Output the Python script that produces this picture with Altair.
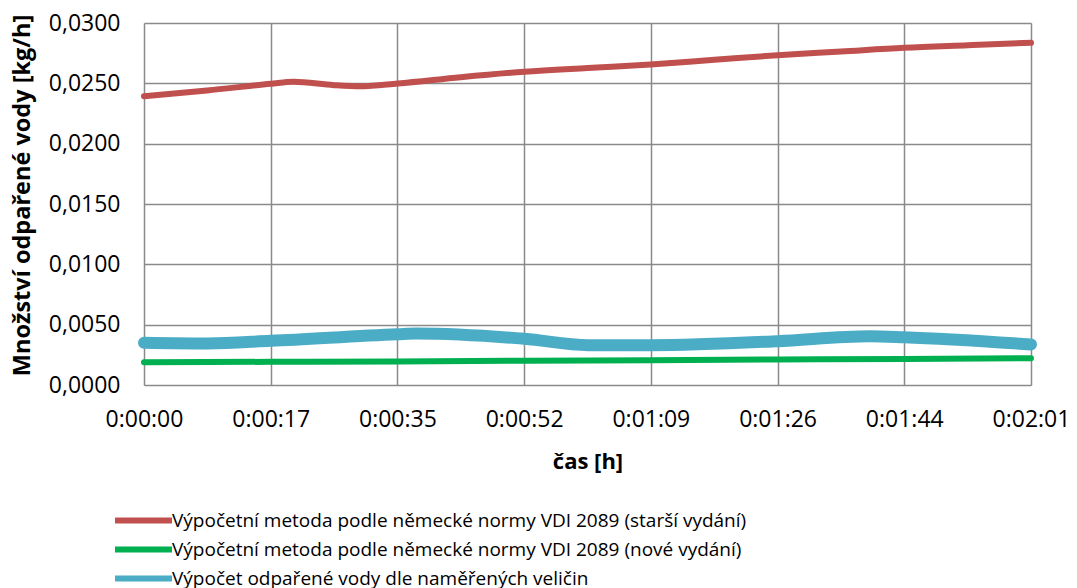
import altair as alt
import pandas as pd

# ---- data ----
series_names = [
    "Výpočetní metoda podle německé normy VDI 2089 (starší vydání)",
    "Výpočetní metoda podle německé normy VDI 2089 (nové vydání)",
    "Výpočet odpařené vody dle naměřených veličin",
]

red_t = [0, 8.6, 17.3, 20.4, 25.9, 29.5, 34.6, 43.2, 51.9, 60.5, 69.1, 77.8, 86.4, 95.1, 103.7, 112.4, 121]
red_v = [0.02393, 0.02441, 0.02496, 0.02513, 0.02485, 0.02476, 0.02499, 0.02551, 0.02596,
         0.02627, 0.02656, 0.02695, 0.02733, 0.02764, 0.02795, 0.02816, 0.02836]

green_t = [0, 17.3, 34.6, 51.9, 69.1, 86.4, 103.7, 121]
green_v = [0.00189, 0.00192, 0.00195, 0.00201, 0.00206, 0.00211, 0.00216, 0.00222]

blue_t = [0, 8.7, 17.3, 34.6, 37.1, 51.9, 60.6, 69.1, 86.4, 99.0, 103.7, 121]
blue_v = [0.00350, 0.00344, 0.00366, 0.00421, 0.00427, 0.00383, 0.00330, 0.00330,
          0.00363, 0.00404, 0.00396, 0.00336]

x_tick_labels = ["0:00:00", "0:00:17", "0:00:35", "0:00:52", "0:01:09", "0:01:26", "0:01:44", "0:02:01"]
y_ticks = [0.0, 0.005, 0.010, 0.015, 0.020, 0.025, 0.030]

colors = ["#C0504D", "#00B050", "#4BACC6"]

rows = []
for name, ts, vs in zip(series_names, [red_t, green_t, blue_t], [red_v, green_v, blue_v]):
    for t, v in zip(ts, vs):
        rows.append({"series": name, "t": t, "v": v})
df = pd.DataFrame(rows)

x_max = 121
x_ticks = [i * x_max / (len(x_tick_labels) - 1) for i in range(len(x_tick_labels))]
label_expr = ""
for tv, lab in zip(x_ticks, x_tick_labels):
    label_expr += f"abs(datum.value - {tv:.4f}) < 0.01 ? '{lab}' : "
label_expr += "''"

FONT = "Open Sans"
thick_series = series_names[2]

base = alt.Chart(df).encode(
    x=alt.X("t:Q", title="čas [h]",
            scale=alt.Scale(domain=[0, x_max], nice=False, zero=False),
            axis=alt.Axis(values=x_ticks, labelExpr=label_expr, ticks=False, domain=False,
                          labelPadding=23, titlePadding=20, labelFlush=False,
                          labelFontSize=23, titleFontSize=22, titleFontWeight="bold",
                          labelFont=FONT, titleFont=FONT, labelColor="#000", titleColor="#000",
                          grid=True, gridColor="#8a8a8a", gridWidth=1.5)),
    y=alt.Y("v:Q", title="Množství odpařené vody [kg/h]",
            scale=alt.Scale(domain=[0, 0.03], nice=False),
            axis=alt.Axis(values=y_ticks, labelExpr="replace(format(datum.value, '.4f'), '.', ',')",
                          ticks=False, domain=False, labelPadding=24,
                          titleX=-110, titleY=172, titleAngle=270, titleBaseline="bottom",
                          labelFontSize=23, titleFontSize=23.5, titleFontWeight="bold",
                          labelFont=FONT, titleFont=FONT, labelColor="#000", titleColor="#000",
                          grid=True, gridColor="#8a8a8a", gridWidth=1.5)),
    color=alt.Color("series:N", title=None,
                    scale=alt.Scale(domain=series_names, range=colors),
                    legend=alt.Legend(orient="none", legendX=-11, legendY=125 + 362,
                                      direction="vertical", symbolType="M-4,0H4",
                                      symbolSize=203, symbolStrokeWidth=6,
                                      labelOffset=18, rowPadding=4,
                                      labelFont=FONT, labelFontSize=19, labelColor="#000",
                                      labelLimit=800)),
    order=alt.Order("t:Q"),
)

thin = base.mark_line(interpolate="monotone", strokeWidth=6, strokeCap="round",
                      strokeJoin="round").transform_filter(alt.datum.series != thick_series)
thick = base.mark_line(interpolate="monotone", strokeWidth=12, strokeCap="round",
                       strokeJoin="round").transform_filter(alt.datum.series == thick_series)

chart = alt.layer(thin, thick).properties(
    width=887, height=362,
    autosize=alt.AutoSizeParams(type="none"),
    padding={"left": 136, "top": 15, "right": 38, "bottom": 205},
).configure_view(
    fill="#FDF5EF", stroke="#8a8a8a", strokeWidth=1.5
).configure(background="white")

chart.save("out.html", embed_options={"renderer": "svg", "actions": False})
